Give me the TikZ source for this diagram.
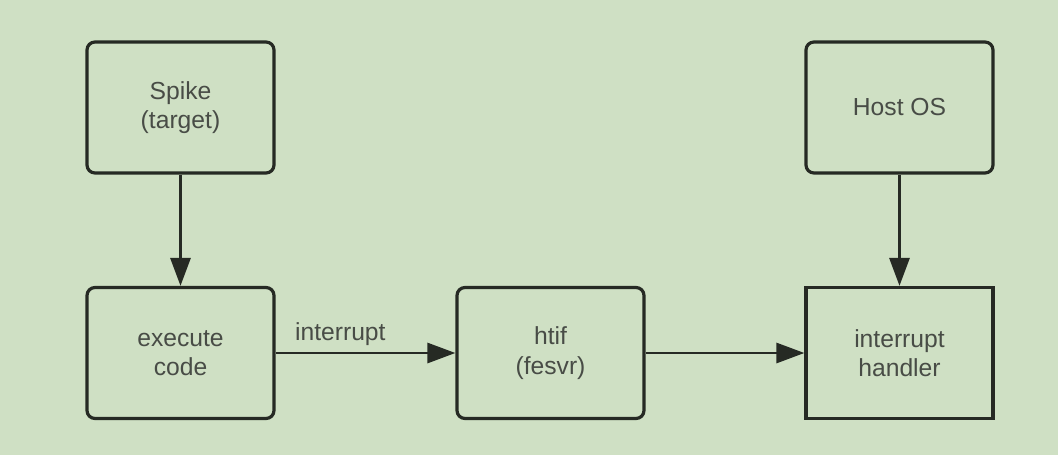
\documentclass[tikz,border=0pt]{standalone}
\usepackage{fontspec}
\setmainfont{Liberation Sans}
\usetikzlibrary{arrows.meta}
\definecolor{bg}{RGB}{207,224,196}
\definecolor{ln}{RGB}{38,42,36}
\definecolor{tx}{RGB}{72,76,70}
\begin{document}
\begin{tikzpicture}[x=0.75pt,y=-0.75pt,
  box/.style={draw=ln,line width=2.4pt,rounded corners=6pt,minimum width=187*0.75pt,minimum height=131*0.75pt,
    align=center,font=\fontsize{18.5}{22}\selectfont,text=tx,inner sep=0pt},
  sqbox/.style={box,sharp corners},
  arr/.style={draw=ln,line width=2.2pt,-{Triangle[length=21pt,width=15pt]}}]
\fill[bg] (0,0) rectangle (1058,455);
\useasboundingbox (0,0) rectangle (1058,455);
\node[box] (spike) at (180.5,107.5) {Spike\\(target)};
\node[box] (exec) at (180.5,353) {execute\\code};
\node[box] (htif) at (550.5,353) {htif\\(fesvr)};
\node[box] (host) at (899.5,107.5) {Host OS};
\node[sqbox] (hand) at (899.5,353) {interrupt\\handler};
\draw[arr] (spike) -- (exec);
\draw[arr] (host) -- (hand);
\draw[arr] (exec) -- node[pos=0.36,above=1pt,font=\fontsize{18.5}{22}\selectfont,text=tx] {interrupt} (htif);
\draw[arr] (htif) -- (hand);
\end{tikzpicture}
\end{document}
